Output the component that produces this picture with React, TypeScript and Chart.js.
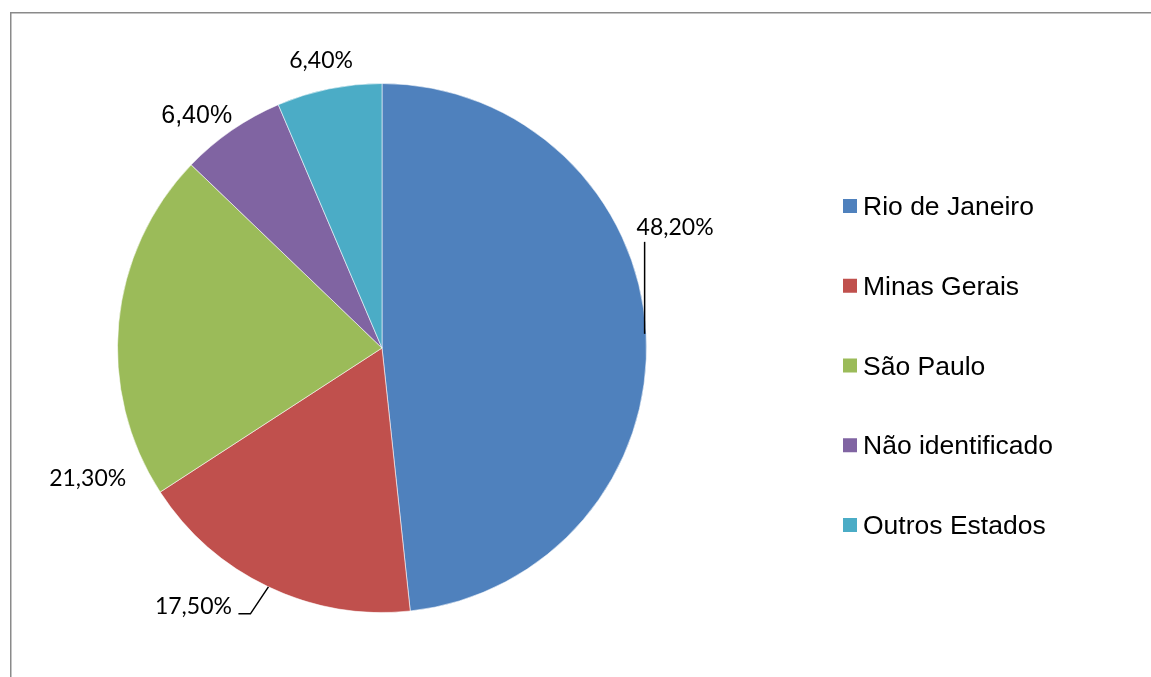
import React, { useEffect, useRef } from "react";
import { Chart, registerables } from "chart.js";

Chart.register(...registerables);

// ---- data ----
const categories = ["Rio de Janeiro", "Minas Gerais", "São Paulo", "Não identificado", "Outros Estados"];
const values = [48.2, 17.5, 21.3, 6.4, 6.4];
const colors = ["#4F81BD", "#C0504D", "#9BBB59", "#8064A2", "#4BACC6"];

// ---- label styling (offsets of label centre from slice's outer mid point) ----
const labelOffsets: [number, number][] = [[29, -107], [-75, 19], [-31, 155], [-35, -16], [-8, -29]];
const labelFonts = ["Lato", "Lato", "Lato", "Liberation Sans", "Lato"];
const labelSizes = [23, 23, 23, 25, 23];

const fmt = (v: number) => v.toFixed(2).replace(".", ",") + "%";

const framePlugin = {
  id: "frame",
  beforeDraw(chart: any) {
    const ctx = chart.ctx;
    ctx.save();
    ctx.strokeStyle = "#8a8a8a";
    ctx.lineWidth = 1.5;
    ctx.beginPath();
    ctx.moveTo(10.75, chart.height);
    ctx.lineTo(10.75, 12.75);
    ctx.lineTo(chart.width, 12.75);
    ctx.stroke();
    ctx.restore();
  },
};

const labelPlugin = {
  id: "pieLabels",
  afterDatasetsDraw(chart: any) {
    const ctx = chart.ctx;
    const meta = chart.getDatasetMeta(0);
    const ds = chart.data.datasets[0];
    ctx.save();
    meta.data.forEach((arc: any, i: number) => {
      const mid = (arc.startAngle + arc.endAngle) / 2;
      const ax = arc.x + Math.cos(mid) * arc.outerRadius;
      const ay = arc.y + Math.sin(mid) * arc.outerRadius;
      const [dx, dy] = labelOffsets[i];
      const cx = ax + dx;
      const cy = ay + dy;
      const size = labelSizes[i];
      ctx.font = `${size}px "${labelFonts[i]}"`;
      ctx.fillStyle = "#000";
      ctx.textAlign = "center";
      ctx.textBaseline = "alphabetic";
      ctx.fillText(fmt(ds.data[i]), cx, cy + size * 0.36);
      ctx.strokeStyle = "#000";
      ctx.lineWidth = 1.5;
      if (i === 0) {
        ctx.beginPath();
        ctx.moveTo(ax - 1.5, ay);
        ctx.lineTo(ax - 1.5, cy + 15);
        ctx.stroke();
      } else if (i === 1) {
        ctx.beginPath();
        ctx.moveTo(ax, ay);
        ctx.lineTo(ax - 18, ay + 27);
        ctx.lineTo(ax - 30, ay + 27);
        ctx.stroke();
      }
    });
    ctx.restore();
  },
};

const legendPlugin = {
  id: "customLegend",
  afterDraw(chart: any) {
    const ctx = chart.ctx;
    const ds = chart.data.datasets[0];
    const startY = 206;
    const step = 79.75;
    ctx.save();
    ctx.font = '26.5px "Liberation Sans"';
    ctx.textAlign = "left";
    ctx.textBaseline = "alphabetic";
    chart.data.labels.forEach((lab: string, i: number) => {
      const y = startY + i * step;
      ctx.fillStyle = ds.backgroundColor[i];
      ctx.fillRect(843, y - 7, 14, 14);
      ctx.fillStyle = "#000";
      ctx.fillText(lab, 863, y + 9);
    });
    ctx.restore();
  },
};

export default function App() {
  const ref = useRef<HTMLCanvasElement>(null);
  useEffect(() => {
    if (!ref.current) return;
    const chart = new Chart(ref.current, {
      type: "pie",
      data: {
        labels: categories,
        datasets: [
          {
            data: values,
            backgroundColor: colors,
            borderColor: "rgba(255,255,255,0.55)",
            borderWidth: 1,
            hoverOffset: 0,
          },
        ],
      },
      options: {
        animation: false,
        responsive: true,
        maintainAspectRatio: false,
        layout: { padding: { left: 117, top: 83, right: 504, bottom: 64 } },
        plugins: {
          legend: { display: false },
          tooltip: { enabled: false },
        },
        events: [],
      },
      plugins: [framePlugin, labelPlugin, legendPlugin],
    });
    return () => chart.destroy();
  }, []);
  return (
    <div style={{ position: "fixed", left: 0, top: 0, width: 1151, height: 677, background: "#fff" }}>
      <canvas ref={ref} />
    </div>
  );
}
